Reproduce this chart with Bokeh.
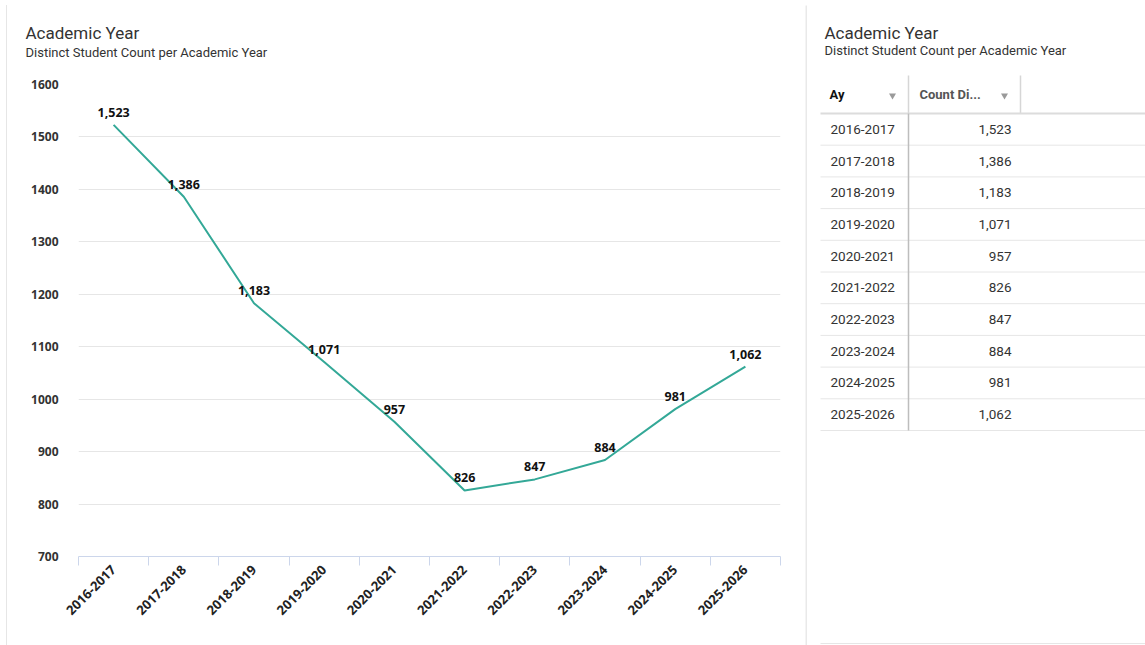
import math
from bokeh.plotting import figure
from bokeh.models import (Range1d, LinearAxis, FixedTicker, ColumnDataSource, Grid, Title)
from bokeh.embed import file_html
from bokeh.resources import INLINE
from bokeh.core.properties import value
from bokeh.core.templates import FILE

# ---------------- data ----------------
years = ["2016-2017", "2017-2018", "2018-2019", "2019-2020", "2020-2021",
         "2021-2022", "2022-2023", "2023-2024", "2024-2025", "2025-2026"]
counts = [1523, 1386, 1183, 1071, 957, 826, 847, 884, 981, 1062]
y_ticks = [700, 800, 900, 1000, 1100, 1200, 1300, 1400, 1500, 1600]
title_text = "Academic Year"
subtitle_text = "Distinct Student Count per Academic Year"
col_headers = ["Ay", "Count Di..."]

labels = [f"{c:,}" for c in counts]
n = len(years)
centers = [i + 0.5 for i in range(n)]          # category slot centres
bounds = [float(i) for i in range(n + 1)]       # category slot boundaries

TEAL = "#33a897"
LABEL_FONT = "Open Sans"
UI_FONT = "Roboto"

# ---------------- chart ----------------
src = ColumnDataSource(dict(x=centers, year=years, count=counts, label=labels))

p = figure(width=805, height=645, title=None,
           x_range=Range1d(0, n),
           y_range=Range1d(y_ticks[0], y_ticks[-1]),
           output_backend="svg", toolbar_location=None,
           x_axis_location=None, y_axis_location=None,
           min_border_left=78, min_border_right=25,
           min_border_top=0, min_border_bottom=89)
p.outline_line_color = None
p.background_fill_color = "white"
p.border_fill_color = "white"
for g in p.xgrid + p.ygrid:
    g.visible = False

# title stack (first added = closest to frame): spacer, subtitle, title, spacer
p.add_layout(Title(text=" ", text_font_size="1px", standoff=22), "above")
p.add_layout(Title(text=subtitle_text, align="left", offset=-53, standoff=0,
                   text_font=UI_FONT, text_font_size="13px", text_font_style="normal",
                   text_color="#333333"), "above")
p.add_layout(Title(text=title_text, align="left", offset=-53, standoff=0,
                   text_font=UI_FONT, text_font_size="17px", text_font_style="normal",
                   text_color="#333333"), "above")
p.add_layout(Title(text=" ", text_font_size="1px", standoff=17), "above")

yaxis = LinearAxis(ticker=FixedTicker(ticks=y_ticks))
yaxis.axis_line_color = None
yaxis.major_tick_line_color = None
yaxis.minor_tick_line_color = None
yaxis.major_label_standoff = 14
yaxis.major_label_text_font = LABEL_FONT
yaxis.major_label_text_font_style = "bold"
yaxis.major_label_text_font_size = "12px"
yaxis.major_label_text_color = "#333333"
p.add_layout(yaxis, "left")

p.add_layout(Grid(dimension=1, ticker=FixedTicker(ticks=y_ticks[1:]),
                  grid_line_color="#e6e6e6", grid_line_width=1))

# category axis: labels at slot centres, tick marks (minor ticks) at slot boundaries
xaxis = LinearAxis(ticker=FixedTicker(ticks=centers, minor_ticks=bounds),
                   major_label_overrides={c: y for c, y in zip(centers, years)})
xaxis.axis_line_color = "#ccd6eb"
xaxis.major_tick_line_alpha = 0
xaxis.major_tick_out = 9
xaxis.major_tick_in = 0
xaxis.minor_tick_line_color = "#ccd6eb"
xaxis.minor_tick_out = 9
xaxis.minor_tick_in = 0
xaxis.major_label_orientation = math.pi / 4
xaxis.major_label_standoff = 2
xaxis.major_label_text_font = LABEL_FONT
xaxis.major_label_text_font_style = "bold"
xaxis.major_label_text_font_size = "13px"
xaxis.major_label_text_color = "#222222"
p.add_layout(xaxis, "below")

p.line(x="x", y="count", source=src, line_color=TEAL, line_width=2)
p.text(x="x", y="count", text="label", source=src,
       text_align="center", text_baseline="bottom", y_offset=-8,
       text_font=value(LABEL_FONT), text_font_style="bold",
       text_font_size="12.5px", text_color="#111111")

# ---------------- table ----------------
TW = 340
t = figure(width=TW, height=645, title=None, x_range=Range1d(0, TW), y_range=Range1d(645, 0),
           output_backend="svg", toolbar_location=None,
           x_axis_location=None, y_axis_location=None,
           min_border=0, min_border_left=0, min_border_right=0,
           min_border_top=0, min_border_bottom=0)
t.outline_line_color = None
for g in t.xgrid + t.ygrid:
    g.visible = False

# panel separator
t.segment(x0=[0.5], y0=[5], x1=[0.5], y1=[645], line_color="#e9e9e9", line_width=2)

t.text(x=[19], y=[32], text=[title_text], text_font=value(UI_FONT), text_font_size="17px",
       text_color="#333333", text_baseline="middle")
t.text(x=[19], y=[50], text=[subtitle_text], text_font=value(UI_FONT), text_font_size="13px",
       text_color="#333333", text_baseline="middle")

HEAD_TOP, HEAD_BOT, ROW_H = 75, 113, 31.7
head_y = (HEAD_TOP + HEAD_BOT) / 2
t.text(x=[24], y=[head_y], text=[col_headers[0]], text_font=value(UI_FONT),
       text_font_style="bold", text_font_size="13px", text_color="#111111",
       text_baseline="middle")
t.text(x=[114], y=[head_y], text=[col_headers[1]], text_font=value(UI_FONT),
       text_font_style="bold", text_font_size="13px", text_color="#555555",
       text_baseline="middle")
t.scatter(x=[87, 199], y=[head_y + 1, head_y + 1], marker="inverted_triangle", size=7,
          fill_color="#9a9a9a", line_color=None)
t.segment(x0=[103, 215], y0=[HEAD_TOP, HEAD_TOP], x1=[103, 215], y1=[HEAD_BOT, HEAD_BOT],
          line_color="#d6d6d6", line_width=1.5)
t.segment(x0=[15], y0=[HEAD_BOT], x1=[TW], y1=[HEAD_BOT], line_color="#dcdcdc", line_width=2)

row_c = [HEAD_BOT + ROW_H * (i + 0.5) for i in range(n)]
row_b = [HEAD_BOT + ROW_H * (i + 1) for i in range(n)]
tsrc = ColumnDataSource(dict(year=years, label=labels, yc=row_c, yb=row_b,
                             xl=[15] * n, xr=[TW] * n, xy=[25] * n, xc=[206] * n))
t.segment(x0="xl", y0="yb", x1="xr", y1="yb", source=tsrc, line_color="#e6e6e6", line_width=1)
t.segment(x0=[103], y0=[HEAD_BOT], x1=[103], y1=[HEAD_BOT + ROW_H * n],
          line_color="#bdbdbd", line_width=1.5)
t.text(x="xy", y="yc", text="year", source=tsrc, text_font=value(UI_FONT),
       text_font_size="13.5px", text_color="#333333", text_baseline="middle")
t.text(x="xc", y="yc", text="label", source=tsrc, text_font=value(UI_FONT),
       text_font_size="13.5px", text_color="#333333", text_baseline="middle",
       text_align="right")
t.segment(x0=[15], y0=[643], x1=[TW], y1=[643], line_color="#e6e6e6", line_width=1)

# two independent roots placed side by side (no border alignment between them),
# plus the faint left edge of the chart card
tmpl = FILE.environment.from_string(
    '{% extends "file.html" %}{% block postamble %}<style>'
    'body{display:flex !important;flex-direction:row;align-items:flex-start;}'
    'body::before{content:"";position:fixed;left:6px;top:5px;bottom:0;'
    'border-left:1px solid #e6e6e6;z-index:10;}'
    '</style>{% endblock %}')
open("out.html", "w").write(file_html([p, t], INLINE, template=tmpl))
